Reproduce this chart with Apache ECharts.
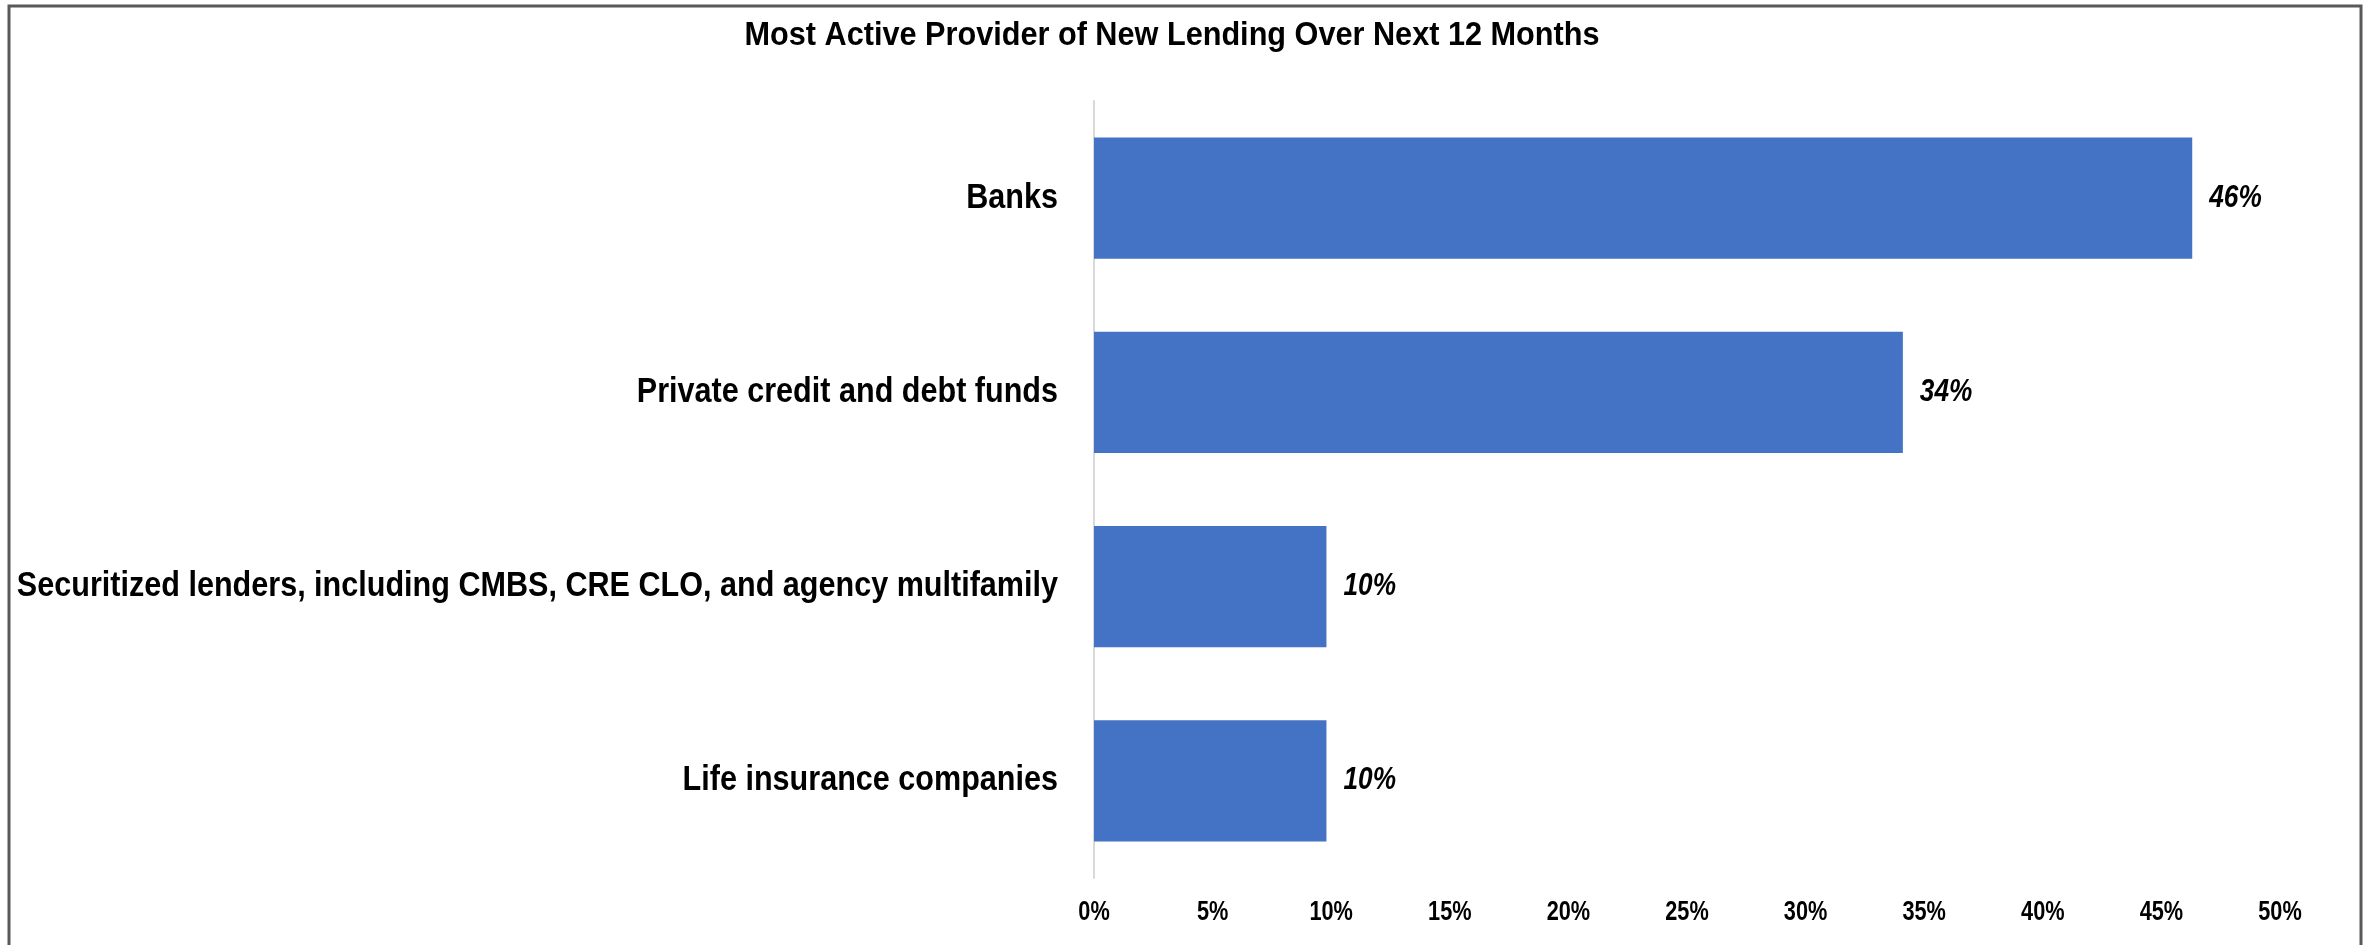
<!DOCTYPE html>
<html>
<head>
<meta charset="utf-8">
<title>Most Active Provider of New Lending Over Next 12 Months</title>
<script src="https://cdn.jsdelivr.net/npm/echarts@6/dist/echarts.min.js"></script>
<style>
  html, body { margin: 0; padding: 0; background: #ffffff; }
  #chart { width: 2369px; height: 945px; }
</style>
</head>
<body>
<div id="chart"></div>
<script>
// Survey responses: share of respondents naming each lender type
const titleText = 'Most Active Provider of New Lending Over Next 12 Months';
const categories = [
  'Banks',
  'Private credit and debt funds',
  'Securitized lenders, including CMBS, CRE CLO, and agency multifamily',
  'Life insurance companies'
];
const shares = [46.3, 34.1, 9.8, 9.8];
const axisTicks = [0, 5, 10, 15, 20, 25, 30, 35, 40, 45, 50];

// Narrow bold lettering: a regular sans face squeezed horizontally
const FAMILY = '"Liberation Sans", Arial, sans-serif';

const chart = echarts.init(document.getElementById('chart'), null, { renderer: 'canvas' });

chart.setOption({
  backgroundColor: '#ffffff',
  animation: false,
  grid: { left: 1094, right: 89, top: 101, bottom: 67, containLabel: false, outerBoundsMode: 'none' },
  xAxis: {
    type: 'value',
    min: axisTicks[0],
    max: axisTicks[axisTicks.length - 1],
    interval: axisTicks[1] - axisTicks[0],
    axisLine: { show: false },
    axisTick: { show: false },
    splitLine: { show: false },
    axisLabel: { show: false }
  },
  yAxis: {
    type: 'category',
    inverse: true,
    data: categories,
    axisLine: { show: true, lineStyle: { color: '#d9d9d9', width: 2 } },
    axisTick: { show: false },
    axisLabel: { show: false }
  },
  series: [{
    type: 'bar',
    data: shares,
    barCategoryGap: '37.7%',
    itemStyle: { color: '#4472C4' },
    label: { show: false }
  }]
});

function narrowText(text, x, y, opts) {
  return {
    type: 'text',
    x: x,
    y: y,
    scaleX: opts.scaleX,
    silent: true,
    style: {
      text: text,
      x: 0,
      y: 0,
      fill: '#000000',
      fontFamily: FAMILY,
      fontSize: opts.size,
      fontWeight: 'bold',
      fontStyle: opts.italic ? 'italic' : 'normal',
      align: opts.align,
      verticalAlign: 'middle'
    }
  };
}

const elements = [];

// outer frame
elements.push({
  type: 'rect',
  silent: true,
  shape: { x: 9, y: 6, width: 2352, height: 1000 },
  style: { fill: 'none', stroke: '#595959', lineWidth: 3 }
});

// title
elements.push(narrowText(titleText, 1172, 36, { size: 33.5, scaleX: 0.915, align: 'center' }));

// category labels, right-aligned against the value axis
const axisX = chart.convertToPixel({ xAxisIndex: 0 }, 0);
categories.forEach(function (c) {
  const y = chart.convertToPixel({ yAxisIndex: 0 }, c);
  elements.push(narrowText(c, axisX - 36, y, { size: 34.5, scaleX: 0.886, align: 'right' }));
});

// value-axis tick labels
axisTicks.forEach(function (t) {
  const x = chart.convertToPixel({ xAxisIndex: 0 }, t);
  elements.push(narrowText(t + '%', x, 912, { size: 27.5, scaleX: 0.79, align: 'center' }));
});

// value labels at the end of each bar
shares.forEach(function (v, i) {
  const p = chart.convertToPixel({ seriesIndex: 0 }, [v, categories[i]]);
  elements.push(narrowText(Math.round(v) + '%', p[0] + 17, p[1], { size: 30.5, scaleX: 0.86, align: 'left', italic: true }));
});

chart.setOption({ graphic: { elements: elements } });
</script>
</body>
</html>
